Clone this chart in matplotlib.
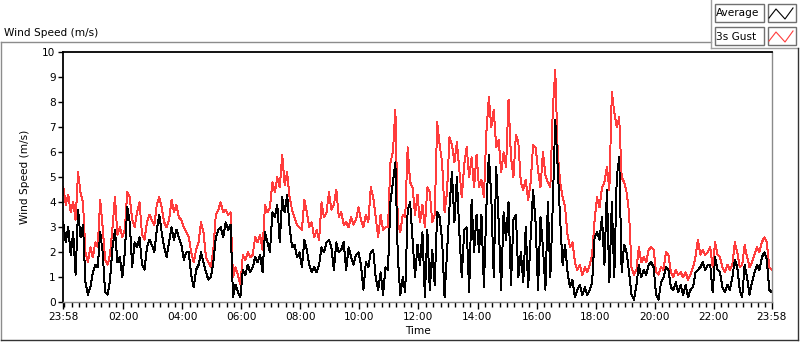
import matplotlib
matplotlib.use('Agg')
import matplotlib.pyplot as plt
from matplotlib.lines import Line2D
from matplotlib.patches import Rectangle
import numpy as np

# readings every 5 min, 23:58 -> 23:58 next day (one row per hour)
gust = [
    4.6, 3.9, 4.3, 3.6, 4.0, 3.3, 5.2, 4.4, 4.0, 2.0, 1.6, 2.2,
    1.8, 2.4, 2.2, 4.1, 3.0, 1.7, 1.5, 1.9, 3.0, 4.2, 2.7, 3.0,
    2.6, 2.9, 4.4, 4.2, 3.3, 3.0, 3.6, 4.0, 2.7, 2.5, 3.2, 3.5,
    3.3, 3.1, 3.9, 4.2, 3.8, 3.2, 3.0, 3.3, 4.1, 3.6, 3.9, 3.4,
    3.3, 3.0, 2.8, 2.6, 2.0, 1.6, 2.1, 2.4, 3.2, 2.8, 1.8, 1.6,
    1.4, 2.1, 3.5, 3.7, 4.0, 3.6, 3.7, 3.5, 3.6, 1.0, 1.4, 1.1,
    0.7, 1.9, 1.7, 2.0, 1.8, 1.9, 2.6, 2.4, 2.7, 2.1, 3.9, 3.6,
    3.8, 4.8, 4.4, 5.0, 4.6, 5.9, 4.7, 5.2, 4.2, 3.7, 3.4, 3.1,
    3.0, 2.9, 4.1, 3.6, 3.0, 3.2, 2.6, 2.9, 2.5, 4.0, 3.4, 3.6,
    4.4, 3.7, 3.9, 4.5, 3.4, 3.6, 3.1, 3.2, 3.0, 3.4, 3.1, 3.3,
    3.8, 3.3, 3.0, 3.5, 3.2, 4.6, 4.2, 3.4, 2.6, 3.5, 2.9, 3.0,
    3.0, 5.6, 6.0, 7.7, 3.2, 2.8, 3.5, 3.4, 6.2, 4.8, 4.6, 3.5,
    4.3, 3.2, 3.9, 3.0, 4.6, 4.4, 3.2, 3.5, 7.2, 6.3, 5.6, 3.6,
    4.4, 6.6, 6.3, 5.6, 6.4, 5.3, 4.2, 5.5, 6.2, 5.0, 5.8, 4.6,
    5.9, 4.6, 4.9, 4.2, 6.8, 8.2, 7.0, 7.7, 6.2, 6.5, 5.2, 6.0,
    5.4, 8.1, 5.8, 5.0, 6.7, 6.4, 4.8, 4.5, 4.9, 4.1, 4.8, 6.3,
    6.2, 5.3, 4.6, 6.0, 5.1, 4.8, 4.6, 7.7, 9.3, 6.0, 4.8, 4.2,
    3.8, 2.7, 2.2, 2.4, 1.6, 1.3, 1.5, 1.1, 1.4, 1.2, 1.5, 1.9,
    3.3, 4.2, 3.8, 4.6, 4.8, 5.4, 4.5, 8.4, 7.6, 7.0, 7.4, 5.0,
    4.8, 4.4, 3.6, 1.4, 1.1, 1.3, 2.2, 1.6, 1.8, 1.6, 2.1, 2.2,
    2.1, 1.2, 1.1, 1.4, 1.3, 2.0, 1.9, 1.2, 1.0, 1.3, 1.1, 1.2,
    1.0, 1.2, 0.9, 1.1, 1.4, 1.8, 2.5, 1.9, 2.1, 1.9, 2.0, 2.2,
    1.4, 2.4, 1.9, 1.8, 1.4, 1.2, 1.5, 1.3, 1.5, 2.4, 2.0, 1.4,
    1.5, 2.3, 1.8, 1.4, 1.6, 1.9, 2.2, 2.0, 2.4, 2.6, 2.4, 1.4,
    1.3,
]
average = [
    3.2, 2.4, 3.0, 1.9, 2.8, 1.1, 3.7, 2.6, 3.1, 0.8, 0.3, 0.6,
    1.2, 1.5, 1.4, 2.8, 2.0, 0.4, 0.3, 0.9, 2.2, 2.9, 1.6, 1.8,
    1.0, 2.0, 3.8, 3.2, 1.4, 2.4, 2.2, 2.6, 1.5, 1.3, 2.2, 2.5,
    2.3, 2.0, 2.9, 3.5, 2.8, 2.2, 1.8, 2.4, 3.0, 2.5, 2.9, 2.6,
    2.3, 1.7, 2.0, 2.0, 1.1, 0.6, 1.3, 1.5, 2.0, 1.6, 1.2, 0.9,
    1.0, 1.6, 2.6, 2.9, 3.0, 2.6, 3.2, 2.9, 3.1, 0.2, 0.7, 0.4,
    0.2, 1.3, 1.1, 1.5, 1.2, 1.4, 1.8, 1.6, 1.9, 1.2, 2.8, 2.4,
    2.0, 3.6, 3.4, 3.9, 2.4, 4.2, 3.6, 4.3, 3.0, 2.2, 2.3, 1.8,
    2.0, 1.4, 2.5, 2.1, 1.5, 1.2, 1.4, 1.2, 1.5, 2.2, 2.0, 2.4,
    2.5, 2.2, 1.3, 2.4, 2.0, 2.1, 2.4, 1.3, 2.2, 1.8, 1.5, 1.9,
    2.0, 1.5, 0.5, 1.6, 1.4, 2.0, 2.1, 1.0, 0.5, 1.2, 0.3, 1.4,
    1.3, 4.0, 4.8, 5.6, 1.8, 0.3, 1.0, 0.4, 3.7, 4.0, 2.5, 1.0,
    2.3, 1.5, 2.8, 0.2, 2.9, 0.5, 2.1, 0.7, 3.6, 3.4, 2.5, 0.2,
    2.0, 3.8, 5.2, 3.2, 5.0, 2.8, 1.0, 2.9, 3.0, 0.4, 4.1, 2.0,
    3.5, 2.0, 3.5, 0.6, 3.8, 5.9, 4.2, 1.0, 5.4, 3.2, 0.5, 3.6,
    2.5, 4.0, 0.7, 3.3, 3.5, 1.0, 2.0, 0.8, 3.0, 0.6, 2.6, 4.5,
    3.2, 0.5, 3.4, 2.2, 0.5, 4.0, 1.0, 3.9, 7.3, 5.4, 3.3, 1.5,
    2.3, 1.2, 0.6, 0.9, 0.2, 0.5, 0.7, 0.3, 0.6, 0.3, 0.5, 0.8,
    2.6, 2.8, 2.5, 3.4, 1.5, 4.5, 0.8, 4.0, 1.0, 5.0, 5.8, 1.2,
    2.3, 2.0, 1.2, 0.3, 0.1, 0.7, 1.5, 1.0, 1.3, 1.1, 1.5, 1.6,
    1.4, 0.3, 0.1, 0.8, 1.0, 1.4, 1.3, 0.6, 0.5, 0.8, 0.4, 0.7,
    0.3, 0.7, 0.2, 0.5, 0.6, 1.2, 1.3, 1.4, 1.6, 1.3, 1.5, 1.5,
    0.4, 1.8, 1.3, 1.2, 0.6, 0.4, 0.7, 0.5, 1.0, 1.7, 1.4, 0.5,
    0.2, 1.5, 1.0, 0.3, 0.8, 1.2, 1.5, 1.3, 1.8, 2.0, 1.7, 0.5,
    0.4,
]
minutes = np.arange(len(gust)) * 5  # minutes after 23:58

time_labels = ['23:58', '02:00', '04:00', '06:00', '08:00', '10:00', '12:00',
               '14:00', '16:00', '18:00', '20:00', '22:00', '23:58']
time_ticks = [0] + [122 + 120 * i for i in range(11)] + [1440]
minor_ticks = [2 + 15 * k for k in range(96)]

W, H = 800, 342
FS = 7.6


def fx(x):
    return x / W


def fy(y):
    return 1 - y / H


fig = plt.figure(figsize=(W / 100, H / 100), dpi=100)
fig.patch.set_facecolor('white')

ax = fig.add_axes([fx(63.3), fy(302.3), (771.7 - 63.3) / W, 250 / H])
ax.plot(minutes, gust, color='#ff3c3c', lw=0.7, antialiased=False)
ax.plot(minutes, average, color='black', lw=0.7, antialiased=False)

ax.set_xlim(0, 1440)
ax.set_ylim(0, 10)
ax.set_yticks(range(11))
ax.set_xticks(time_ticks)
ax.set_xticklabels(time_labels)
ax.set_xticks(minor_ticks, minor=True)
ax.tick_params(axis='both', labelsize=FS, colors='black', width=1, pad=2)
ax.tick_params(axis='x', which='major', length=5)
ax.tick_params(axis='x', which='minor', length=3.5, width=1)
ax.tick_params(axis='y', which='major', length=3.5)

for s in ['left', 'top']:
    ax.spines[s].set_color('black')
    ax.spines[s].set_linewidth(1.3)
for s in ['right', 'bottom']:
    ax.spines[s].set_color('#8a8a8a')
    ax.spines[s].set_linewidth(1.0)

ax.set_ylabel('Wind Speed (m/s)', fontsize=FS)
ax.yaxis.set_label_coords(-0.047, 0.5)
ax.set_xlabel('Time', fontsize=FS)
ax.xaxis.set_label_coords(0.5, -0.095)

fig.text(fx(4), fy(36), 'Wind Speed (m/s)', fontsize=FS, va='baseline')

# outer panel frame
def fline(xs, ys, color, lw=1.0):
    fig.add_artist(Line2D([fx(x) for x in xs], [fy(y) for y in ys],
                          transform=fig.transFigure, color=color, lw=lw))


fline([0.5, 711], [42, 42], '#8c8c8c')
fline([0.5, 0.5], [42, 340], '#8c8c8c')
fline([711, 711], [0, 48], '#a0a0a0')
fline([711, 798], [48, 48], '#a0a0a0')
fline([0.5, 798], [340, 340], '#333333')
fline([797.5, 797.5], [48, 340], '#333333')

# legend
entries = [('Average', 'black', 4), ('3s Gust', '#ff3c3c', 27)]
for label, color, top in entries:
    fig.add_artist(Rectangle((fx(714.5), fy(top + 18)), 49 / W, 18 / H,
                             transform=fig.transFigure, facecolor='white',
                             edgecolor='#707070', lw=1))
    fig.add_artist(Rectangle((fx(767.5), fy(top + 18)), 28 / W, 18 / H,
                             transform=fig.transFigure, facecolor='white',
                             edgecolor='#707070', lw=1))
    fig.text(fx(716), fy(top + 9.5), label, fontsize=FS, va='center')
    fline([769, 776, 785, 793], [top + 14, top + 5, top + 15, top + 4], color, lw=0.8)

fig.savefig('out.png', dpi=100)
